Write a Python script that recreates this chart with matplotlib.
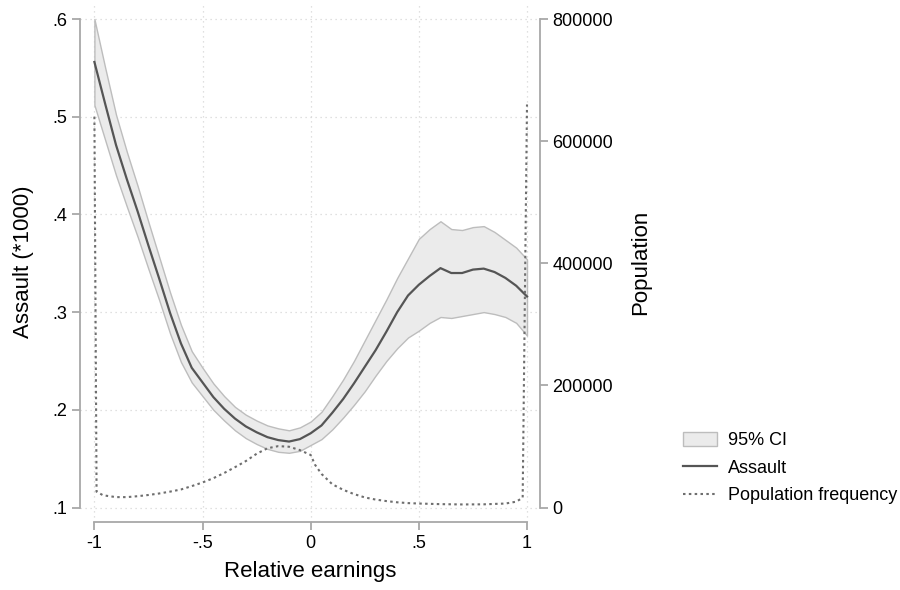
import matplotlib
matplotlib.use("Agg")
import matplotlib.pyplot as plt
import numpy as np

# ---------------- data ----------------
earn_x = [-1.00, -0.95, -0.90, -0.85, -0.80, -0.75, -0.70, -0.65, -0.60, -0.55,
          -0.50, -0.45, -0.40, -0.35, -0.30, -0.25, -0.20, -0.15, -0.10, -0.05,
          0.00, 0.05, 0.10, 0.15, 0.20, 0.25, 0.30, 0.35, 0.40, 0.45,
          0.50, 0.55, 0.60, 0.65, 0.70, 0.75, 0.80, 0.85, 0.90, 0.95, 1.00]
assault = [0.556, 0.513, 0.471, 0.436, 0.403, 0.368, 0.334, 0.299, 0.268, 0.243,
           0.228, 0.213, 0.201, 0.191, 0.183, 0.177, 0.172, 0.169, 0.1675, 0.170,
           0.176, 0.184, 0.197, 0.211, 0.227, 0.244, 0.261, 0.280, 0.300, 0.317,
           0.328, 0.337, 0.345, 0.340, 0.340, 0.3435, 0.3445, 0.341, 0.335, 0.327, 0.316]
ci_upper = [0.600, 0.550, 0.502, 0.464, 0.429, 0.392, 0.356, 0.320, 0.287, 0.260,
            0.243, 0.227, 0.214, 0.203, 0.195, 0.189, 0.184, 0.181, 0.179, 0.182,
            0.188, 0.198, 0.214, 0.231, 0.250, 0.271, 0.292, 0.313, 0.335, 0.355,
            0.375, 0.385, 0.393, 0.385, 0.384, 0.387, 0.388, 0.382, 0.374, 0.366, 0.354]
ci_lower = [0.512, 0.476, 0.440, 0.408, 0.377, 0.344, 0.312, 0.278, 0.249, 0.228,
            0.214, 0.200, 0.189, 0.179, 0.171, 0.165, 0.160, 0.157, 0.156, 0.158,
            0.164, 0.170, 0.180, 0.192, 0.205, 0.219, 0.235, 0.250, 0.263, 0.274,
            0.281, 0.289, 0.295, 0.294, 0.296, 0.298, 0.300, 0.298, 0.295, 0.289, 0.276]

pop_x = [-1.00, -0.99, -0.96, -0.90, -0.85, -0.80, -0.75, -0.70, -0.65, -0.60,
         -0.55, -0.50, -0.45, -0.40, -0.35, -0.30, -0.25, -0.20, -0.15, -0.10,
         -0.05, 0.00, 0.02, 0.05, 0.10, 0.15, 0.20, 0.25, 0.30, 0.35,
         0.40, 0.45, 0.50, 0.60, 0.70, 0.80, 0.90, 0.95, 0.98, 1.00]
pop_freq = [640000, 26000, 20000, 17000, 17000, 18500, 20500, 23000, 26000, 29500,
            35000, 41000, 48000, 56500, 66000, 76000, 88000, 97000, 100500, 99500,
            94000, 86000, 70000, 55000, 38000, 29000, 22000, 16500, 13000, 10500,
            8500, 7200, 6500, 5500, 5000, 5200, 6500, 9500, 16000, 660000]

x_ticks = [-1, -0.5, 0, 0.5, 1]
x_ticklabels = ["-1", "-.5", "0", ".5", "1"]
y_ticks = [0.1, 0.2, 0.3, 0.4, 0.5, 0.6]
y_ticklabels = [".1", ".2", ".3", ".4", ".5", ".6"]
p_ticks = [0, 200000, 400000, 600000, 800000]
p_ticklabels = ["0", "200000", "400000", "600000", "800000"]

# ---------------- style ----------------
plt.rcParams['font.family'] = ['Liberation Sans', 'DejaVu Sans']
W, H = 900, 590
fig = plt.figure(figsize=(9, 5.9), dpi=100)

# pixel geometry
px_left, px_right, px_top, px_bot = 80, 540, 2, 522
x_px0, x_px1 = 94.4, 527.0      # x=-1, x=1
y_px_hi, y_px_lo = 19.0, 507.5  # y=.6, y=.1

ax = fig.add_axes([px_left / W, 1 - px_bot / H, (px_right - px_left) / W, (px_bot - px_top) / H])
xs = 2.0 / (x_px1 - x_px0)
ys = 0.5 / (y_px_lo - y_px_hi)
ax.set_xlim(-1 - (x_px0 - px_left) * xs, 1 + (px_right - x_px1) * xs)
ylo = 0.1 - (px_bot - y_px_lo) * ys
yhi = 0.6 + (y_px_hi - px_top) * ys
ax.set_ylim(ylo, yhi)

spine_col = "#a8a8a8"
grid_col = "#d6d6d6"

ax.grid(True, color=grid_col, linestyle=(0, (1, 3)), linewidth=0.9)
ax.set_axisbelow(True)

ax.fill_between(earn_x, ci_lower, ci_upper, facecolor="#ebebeb", edgecolor="#bdbdbd",
                linewidth=1.0, zorder=2, label="95% CI")
line_a, = ax.plot(earn_x, assault, color="#555555", linewidth=1.6, zorder=3, label="Assault")

ax2 = ax.twinx()
ax2.set_ylim((ylo - 0.1) / 0.5 * 800000, (yhi - 0.1) / 0.5 * 800000)
line_p, = ax2.plot(pop_x, pop_freq, color="#6e6e6e", linewidth=1.5,
                   linestyle=(0, (1.2, 1.6)), zorder=3, label="Population frequency")

for a in (ax, ax2):
    a.spines['top'].set_visible(False)
    for s in a.spines.values():
        s.set_color(spine_col)
        s.set_linewidth(1.3)

ax.spines['right'].set_visible(False)
ax.spines['left'].set_bounds(0.1, 0.6)
ax.spines['bottom'].set_bounds(-1, 1)
ax2.spines['left'].set_visible(False)
ax2.spines['bottom'].set_visible(False)
ax2.spines['right'].set_bounds(0, 800000)

ax.set_xticks(x_ticks)
ax.set_xticklabels(x_ticklabels)
ax.set_yticks(y_ticks)
ax.set_yticklabels(y_ticklabels)
ax2.set_yticks(p_ticks)
ax2.set_yticklabels(p_ticklabels)

for a in (ax, ax2):
    a.tick_params(colors=spine_col, labelcolor="black", labelsize=13, length=5.5, width=1.3)
ax.tick_params(axis='x', pad=4)

ax.set_xlabel("Relative earnings", fontsize=16, labelpad=6)
ax.set_ylabel("Assault (*1000)", fontsize=16, labelpad=13)
ax2.set_ylabel("Population", fontsize=16, labelpad=12)

from matplotlib.patches import Patch
handles = [Patch(facecolor="#ebebeb", edgecolor="#bdbdbd", linewidth=1.0), line_a, line_p]
labels = ["95% CI", "Assault", "Population frequency"]
fig.legend(handles, labels, loc="upper left", bbox_to_anchor=(683 / W, 1 - 432 / H),
           frameon=False, fontsize=13, handlelength=1.9, handleheight=0.8,
           handletextpad=0.6, labelspacing=0.58, borderpad=0, borderaxespad=0)

fig.savefig("out.png", dpi=100)
